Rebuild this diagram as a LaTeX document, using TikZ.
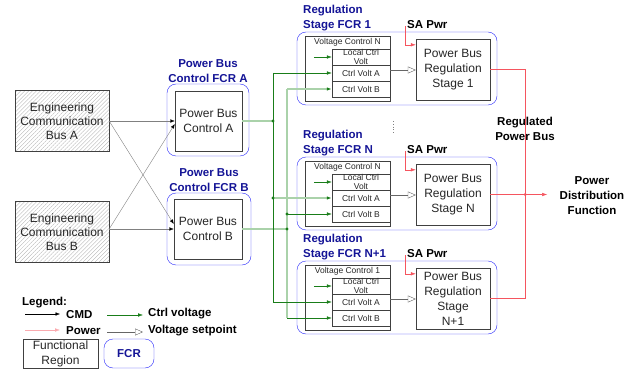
\documentclass[tikz,border=0pt]{standalone}
\usepackage{fontspec}
\setmainfont{Liberation Sans}
\usetikzlibrary{arrows.meta,positioning,calc,patterns.meta}

\definecolor{fcrblue}{RGB}{40,40,250}
\definecolor{lblblue}{RGB}{20,20,150}
\definecolor{ctrlgreen}{RGB}{25,125,25}
\definecolor{ctrllight}{RGB}{170,210,170}
\definecolor{pwrred}{RGB}{245,85,95}

\begin{document}
\begin{tikzpicture}[x=1pt, y=-1pt,
  fr/.style={rectangle, draw=black!75, align=center, inner sep=0pt,
    font=\fontsize{12}{15}\selectfont, text=black!85},
  hatch/.style={pattern={Lines[angle=45, distance=2.8pt, line width=0.35pt]}, pattern color=black!30},
  fcr/.style={rectangle, rounded corners=9pt, draw=fcrblue},
  lbl/.style={font=\fontsize{11.5}{15}\selectfont\bfseries, text=lblblue, inner sep=0pt},
  tag/.style={font=\fontsize{11.5}{15}\selectfont\bfseries, inner sep=0pt},
  tiny/.style={font=\fontsize{8.5}{9}\selectfont, text=black!85, inner sep=0pt},
  ib/.style={rectangle, draw=black!75, minimum width=58pt, minimum height=16pt, tiny},
  cmd/.style={black!50, -{Latex[color=black, length=4.5pt, width=3.5pt]}},
  gar/.style={ctrlgreen, -{Latex[length=5pt, width=3.5pt]}},
  garl/.style={ctrllight, line width=1.2pt, -{Latex[color=ctrlgreen, length=5pt, width=3.5pt]}},
  pwr/.style={pwrred, -{Latex[length=5pt, width=3.5pt]}},
  setp/.style={black!60, -{Triangle[open, length=8pt, width=7pt, fill=white]}}
]
\useasboundingbox (0,0) rectangle (633,369);

% engineering buses and power bus control
\node[fr, hatch, minimum width=94pt, minimum height=61pt,
  font=\fontsize{12}{14}\selectfont] (ecbA) at (62,121) {Engineering\\Communication\\Bus A};
\node[fr, hatch, minimum width=94pt, minimum height=61pt,
  font=\fontsize{12}{14}\selectfont] (ecbB) at (62,232) {Engineering\\Communication\\Bus B};

\node[fcr, minimum width=82pt, minimum height=72pt] (fcrA) at (208,120) {};
\node[fr, minimum width=67pt, minimum height=60pt] (pbcA) at (208.5,121) {Power Bus\\Control A};
\node[lbl, align=center, above=1pt of fcrA] (lblA) {Power Bus\\Control FCR A};
\node[fcr, minimum width=84pt, minimum height=72pt] (fcrB) at (209,229) {};
\node[fr, minimum width=68pt, minimum height=60pt] (pbcB) at (208,229) {Power Bus\\Control B};
\node[lbl, align=center, above=1pt of fcrB] (lblB) {Power Bus\\Control FCR B};

\draw[cmd] (ecbA.east) -- (pbcA.west);
\draw[cmd] ([yshift=3pt]ecbB.east) -- (pbcB.west);
\draw[cmd] (ecbA.east) -- ([yshift=5pt]pbcB.west);
\draw[cmd] ([yshift=3pt]ecbB.east) -- ([yshift=-3pt]pbcA.west);

% regulation stages
\foreach \s/\y/\lab/\vc/\st in {one/32/1/N/{Stage 1}, n/157/N/N/{Stage N}, np/261/N+1/1/{Stage\\N+1}}{
  \node[fcr, minimum width=200pt, minimum height=73pt] (fcr\s) at (397,\y+36.5) {};
  \node[lbl, align=left, anchor=south west] (rl\s) at (303,\y-1) {Regulation\\Stage FCR \lab};
  \node[fr, minimum width=85pt, minimum height=65pt,
    label={[tiny, anchor=north, yshift=-2pt]north:Voltage Control \vc}] (vc\s) at (347.5,\y+36.5) {};
  \node[ib] (lc\s) at (361,\y+25) {};
  \node[tiny, align=center] (lct\s) at (361,\y+25) {Local Ctrl\\Volt};
  \node[ib] (ca\s) at (361,\y+41) {Ctrl Volt A};
  \node[ib] (cb\s) at (361,\y+57) {Ctrl Volt B};
  \node[fr, minimum width=74pt, minimum height=61pt] (pbr\s) at (453,\y+37.5) {Power Bus\\Regulation\\\st};
  \node[tag, anchor=south west] (sa\s) at (407,\y-3) {SA Pwr};
  \coordinate (sp\s) at (405,\y-6);
  \draw[pwr] (sp\s) |- ([yshift=-6pt]pbr\s.north west);
  \draw[setp] ([yshift=3pt]ca\s.east) -- ([yshift=3pt]ca\s.east -| pbr\s.west);
  \draw[gar] ([xshift=-18pt]lc\s.west) -- (lc\s.west);
}
\draw[dotted, black!50, line width=0.8pt] (393,121) -- (393,134);

% control voltage buses
\coordinate (ga) at (273,121);
\coordinate (gb) at (287,229);
\draw[ctrllight, line width=1.2pt] (pbcA.east) -- (ga);
\draw[ctrllight, line width=1.2pt] (pbcB.east) -- (gb);
\draw[ctrllight, line width=1.2pt] (cbone.west -| gb) -- (cbnp.west -| gb);
\draw[ctrlgreen] (caone.west -| ga) -- (canp.west -| ga);
\draw[gar] (caone.west -| ga) -- (caone.west);
\draw[garl] (can.west -| ga) -- (can.west);
\draw[gar] (canp.west -| ga) -- (canp.west);
\draw[garl] (cbone.west -| gb) -- (cbone.west);
\draw[gar] (cbn.west -| gb) -- (cbn.west);
\draw[gar] (cbnp.west -| gb) -- (cbnp.west);
\foreach \p in {ga, gb, {can.west -| ga}, {cbn.west -| gb}}
  \fill[ctrlgreen] (\p) circle[radius=1.7pt];

% regulated power bus
\path (pbrn.east) ++(35,0) coordinate (rb) ++(22,0) coordinate (pdfin);
\draw[pwrred] (pbrone.east) -| (rb);
\draw[pwrred] (pbrnp.east) -| (rb);
\draw[pwr] (pbrn.east) -- (pdfin);
\fill[pwrred] (rb) circle[radius=1.7pt];
\node[tag, align=center] (rpb) at (525,128.5) {Regulated\\Power Bus};
\node[tag, align=center] (pdf) at (592,196) {Power\\Distribution\\Function};

% legend
\node[tag, anchor=west] (leg) at (22,303) {Legend:};
\coordinate (lcmd) at (25,314);
\node[tag, anchor=west] (tcmd) at (66,315) {CMD};
\draw[-{Latex[length=4.5pt, width=3.5pt]}] (lcmd) -- ([xshift=-6pt]lcmd -| tcmd.west);
\coordinate (lpwr) at (25,330);
\node[tag, anchor=west] (tpwr) at (66,331) {Power};
\draw[pwr, pwrred!50] (lpwr) -- ([xshift=-6pt]lpwr -| tpwr.west);
\coordinate (lcv) at (107,315);
\node[tag, anchor=west] (tcv) at (148,314) {Ctrl voltage};
\draw[gar] (lcv) -- ([xshift=-5pt]lcv -| tcv.west);
\coordinate (lsp) at (107,332);
\node[tag, anchor=west] (tsp) at (148,331) {Voltage setpoint};
\draw[setp] (lsp) -- ([xshift=-5pt]lsp -| tsp.west);
\node[fr, minimum width=75pt, minimum height=29pt] (lfr) at (60.5,353.5) {Functional\\Region};
\node[fcr, lbl, minimum width=50pt, minimum height=29pt] (lfcr) at (129,353.5) {FCR};
\end{tikzpicture}
\end{document}
